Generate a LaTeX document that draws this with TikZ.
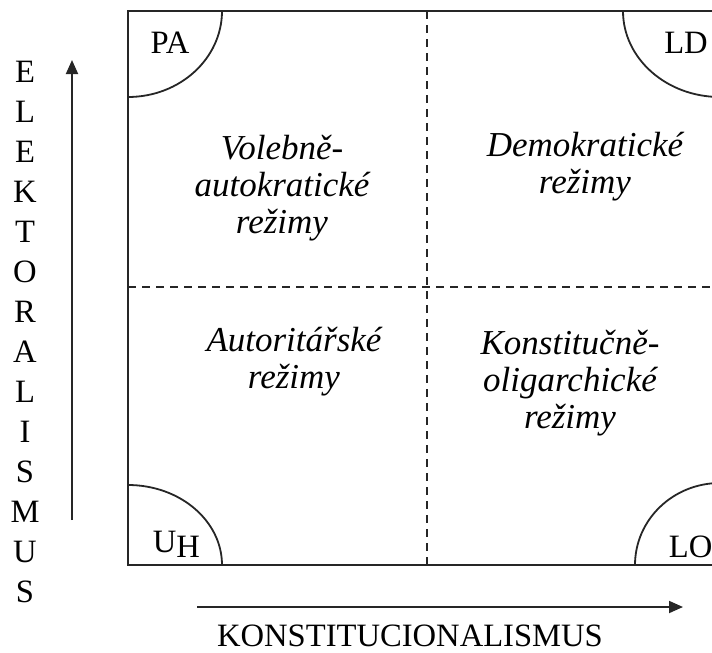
\documentclass[tikz,border=0pt]{standalone}
\usepackage{fontspec}
\setmainfont{Liberation Serif}
\usetikzlibrary{arrows.meta, positioning}

\begin{document}
\begin{tikzpicture}[x=0.5pt, y=-0.5pt, line width=0.9pt, draw=black!85,
    lbl/.style={font=\fontsize{16.3}{18}\selectfont, inner sep=0pt},
    regime/.style={font=\fontsize{17.5}{18.5}\selectfont\itshape, align=center, inner sep=0pt, anchor=base},
    sep/.style={dash pattern=on 4pt off 3pt, line width=0.8pt},
    axis/.style={-{Triangle[length=7pt, width=6pt]}, line width=0.9pt}]
    \clip (0,0) rectangle (712,653);

    % Field corners
    \coordinate (nw) at (128,11);
    \coordinate (ne) at (720,11);
    \coordinate (sw) at (128,565);
    \coordinate (se) at (720,565);
    \coordinate (n) at (427,11);
    \coordinate (s) at (427,565);
    \coordinate (w) at (128,287);
    \coordinate (e) at (720,287);

    % Frame and dividers
    \draw (nw) rectangle (se);
    \draw[sep] (n) -- (s);
    \draw[sep] (w) -- (e);

    % Corner arcs
    \draw ([xshift=47pt]nw) arc[start angle=0, end angle=-90, x radius=47pt, y radius=43pt];
    \draw ([xshift=-48.5pt]ne) arc[start angle=180, end angle=270, x radius=48.5pt, y radius=43pt];
    \draw ([yshift=40pt]sw) arc[start angle=90, end angle=0, x radius=47pt, y radius=40pt];
    \draw ([xshift=-42.5pt]se) arc[start angle=180, end angle=90, x radius=42.5pt, y radius=41pt];

    % Corner labels
    \node[lbl, anchor=base] (pa) at (170,53) {PA};
    \node[lbl, anchor=base] (ld) at (686,53) {LD};
    \node[lbl, anchor=base west] (uh) at (152,552) {U\raisebox{-2.5pt}{H}};
    \node[lbl, anchor=base west] (lo) at (668,557) {LO};

    % Regimes (base = last line)
    \node[regime] (volebne) at (282,233) {Volebně-\\autokratické\\režimy};
    \node[regime] (demokr) at (585,193) {Demokratické\\režimy};
    \node[regime] (autorit) at (294,388) {Autoritářské\\režimy};
    \node[regime] (konstit) at (570,428) {Konstitučně-\\oligarchické\\režimy};

    % Axes
    \coordinate (ybot) at (72,520);
    \coordinate (ytop) at (72,60);
    \draw[axis] (ybot) -- (ytop);
    \foreach \ch [count=\i from 0] in {E,L,E,K,T,O,R,A,L,I,S,M,U,S}
        \node[lbl] (elk\i) at (25,72+40*\i) {\ch};

    \coordinate (xleft) at (197,607);
    \coordinate (xright) at (683,607);
    \draw[axis] (xleft) -- (xright);
    \node[lbl, anchor=base] (konst) at (410,646) {KONSTITUCIONALISMUS};
\end{tikzpicture}
\end{document}
